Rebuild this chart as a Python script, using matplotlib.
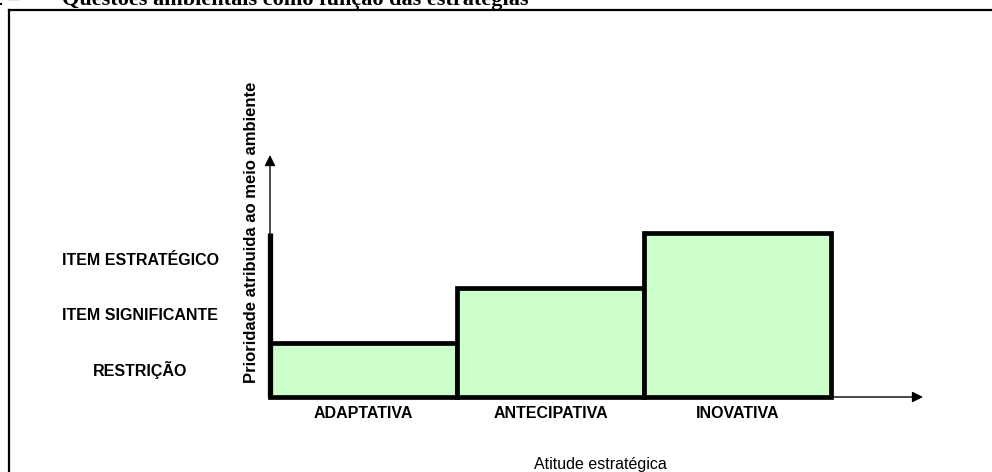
import matplotlib
matplotlib.use("Agg")
import matplotlib.pyplot as plt
from matplotlib.lines import Line2D

# chart data
categories = ["ADAPTATIVA", "ANTECIPATIVA", "INOVATIVA"]
priority = [1, 2, 3]                      # level reached by each strategic attitude
levels = ["RESTRIÇÃO", "ITEM SIGNIFICANTE", "ITEM ESTRATÉGICO"]
x_title = "Atitude estratégica"
y_title = "Prioridade atribuida ao meio ambiente"

W, H = 992, 472
fig = plt.figure(figsize=(W / 100, H / 100), dpi=100)
ax = fig.add_axes([0, 0, 1, 1])
ax.set_axis_off()

# pixel mapping: x=0 at px 270, one bar = 187 px; y=0 at px 397 (from top), one level = 54.5 px
x0, xs = 270, 187.0
y0, ys = 397, 54.5
ax.set_xlim((0 - x0) / xs, (W - x0) / xs)
ax.set_ylim((y0 - H) / ys, y0 / ys)

narrow = ["Liberation Sans Narrow", "Liberation Sans", "DejaVu Sans"]

xpos = [i + 0.5 for i in range(len(categories))]
ax.bar(xpos, priority, width=1.0, color="#ccffcc", edgecolor="black",
       linewidth=3.4, zorder=3)

# thick left axis up to the top level, then thin arrow
ax.plot([0, 0], [0, max(priority)], color="black", lw=3.8, zorder=4,
        solid_capstyle="butt")
ax.annotate("", xy=(0, (y0 - 155) / ys), xytext=(0, max(priority)),
            arrowprops=dict(arrowstyle="-|>", lw=1.0, color="black",
                            mutation_scale=16, shrinkA=0, shrinkB=0))
ax.annotate("", xy=((923 - x0) / xs, 0), xytext=(len(categories), 0),
            arrowprops=dict(arrowstyle="-|>", lw=1.0, color="black",
                            mutation_scale=16, shrinkA=0, shrinkB=0))

# level labels on the left
for i, lab in enumerate(levels):
    ax.text((140 - x0) / xs, i + 0.5, lab, ha="center", va="center",
            fontsize=11.5, fontweight="bold", family=narrow)

# category labels under the bars
for x, lab in zip(xpos, categories):
    ax.text(x, -0.3, lab, ha="center", va="center",
            fontsize=11.5, fontweight="bold", family=narrow)

ax.text((252 - x0) / xs, (y0 - 232) / ys, y_title, rotation=90,
        ha="center", va="center", fontsize=12, fontweight="bold", family=narrow)
ax.text((600 - x0) / xs, (y0 - 464) / ys, x_title, ha="center", va="center",
        fontsize=11.5, family=narrow)

# page frame and clipped caption from the source document
fig.add_artist(Line2D([9 / W, 9 / W], [0, 1 - 10 / H], color="black",
                      lw=1.6, transform=fig.transFigure))
fig.add_artist(Line2D([9 / W, 1], [1 - 10 / H, 1 - 10 / H], color="black",
                      lw=1.6, transform=fig.transFigure))
fig.text(20 / W, 1 - 5 / H, "2 –", ha="right", va="baseline",
         fontsize=16, fontweight="bold", family="Liberation Serif")
fig.text(62 / W, 1 - 5 / H, "Questões ambientais como função das estratégias",
         ha="left", va="baseline", fontsize=16, fontweight="bold",
         family="Liberation Serif")

fig.savefig("out.png", dpi=100)
